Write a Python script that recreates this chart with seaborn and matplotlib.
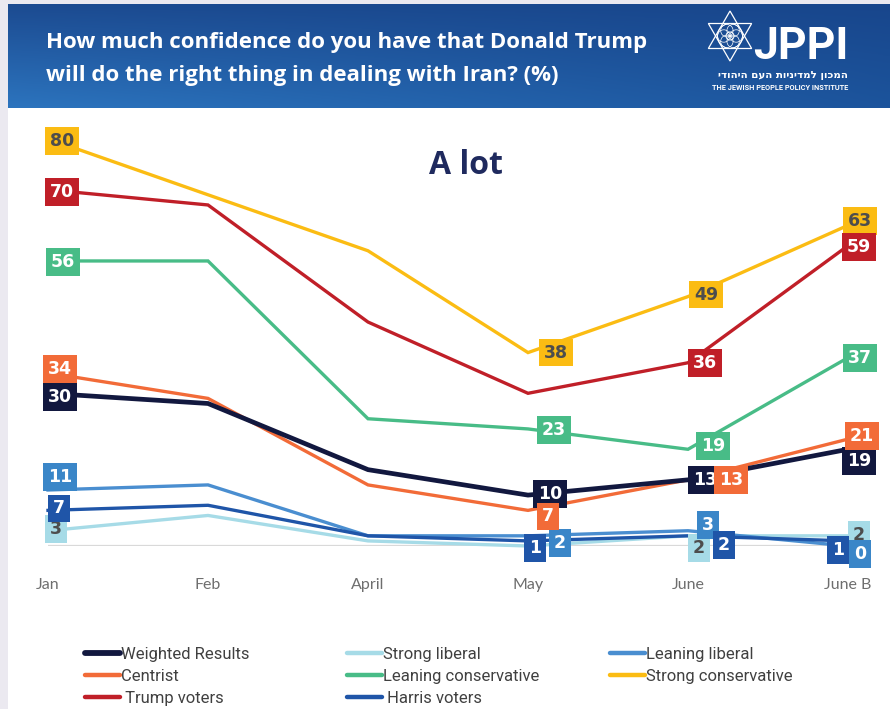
import numpy as np
import pandas as pd
import matplotlib
matplotlib.use("Agg")
import matplotlib.pyplot as plt
from matplotlib.lines import Line2D
from matplotlib.patches import Rectangle, Polygon, Circle
import seaborn as sns

# ---- survey data (percent answering "A lot") ----
periods = ["Jan", "Feb", "April", "May", "June", "June B"]
weighted_results = [30, 28, 15, 10, 13, 19]
strong_liberal = [3, 6, 1, 0, 2, 2]
leaning_liberal = [11, 12, 2, 2, 3, 0]
centrist = [34, 29, 12, 7, 13, 21]
leaning_conservative = [56, 56, 25, 23, 19, 37]
strong_conservative = [80, 69, 58, 38, 49, 63]
trump_voters = [70, 67, 44, 30, 36, 59]
harris_voters = [7, 8, 2, 1, 2, 1]

series_names = ["Weighted Results", "Strong liberal", "Leaning liberal",
                "Centrist", "Leaning conservative", "Strong conservative",
                "Trump voters", "Harris voters"]
series_values = [weighted_results, strong_liberal, leaning_liberal, centrist,
                 leaning_conservative, strong_conservative, trump_voters,
                 harris_voters]
colors = {
    "Weighted Results": "#12183F",
    "Strong liberal": "#A6DBE7",
    "Leaning liberal": "#4A8ED0",
    "Centrist": "#F26B38",
    "Leaning conservative": "#48BC87",
    "Strong conservative": "#FBBC13",
    "Trump voters": "#C01F28",
    "Harris voters": "#1F55A8",
}
label_colors = dict(colors, **{"Leaning liberal": "#3A86C8"})
dark_text = {"Strong conservative", "Strong liberal"}

# value-label placement: period index -> offset (pixels) from the point
label_offsets = {
    "Strong conservative": {0: (14, -2), 3: (28, 0), 4: (18, 2), 5: (12, 4)},
    "Trump voters": {0: (14, -2), 4: (17, 0), 5: (11, -1)},
    "Leaning conservative": {0: (15, -1), 3: (26, -1), 4: (25, 3), 5: (12, 0)},
    "Centrist": {0: (12, 4), 3: (20, -6), 4: (43, 0), 5: (14, 3)},
    "Weighted Results": {0: (12, -4), 3: (22, 1), 4: (17, 0), 5: (11, -12)},
    "Leaning liberal": {0: (12, 13), 3: (32, -7), 4: (20, 6), 5: (12, -8)},
    "Harris voters": {0: (11, 2), 3: (7, -7), 4: (36, -9), 5: (-10, -9)},
    "Strong liberal": {0: (8, 2), 4: (11, -12), 5: (11, 1)},
}

df = pd.DataFrame(
    [(name, i, v) for name, vals in zip(series_names, series_values)
     for i, v in enumerate(vals)],
    columns=["group", "pos", "value"],
)

W, H = 890, 709
fig = plt.figure(figsize=(W / 100, H / 100), dpi=100)
fig.patch.set_facecolor("white")

# ---- background layer in pixel coordinates ----
bg = fig.add_axes([0, 0, 1, 1], zorder=0)
bg.axis("off")
bg.add_patch(Rectangle((0, 0), 8, H, color="#EBE9F0", lw=0))
bg.add_patch(Rectangle((0, 0), W, 4, color="#EBE9F0", lw=0))

# header band with a soft blue gradient
tl, bl = np.array([28, 75, 145]), np.array([44, 116, 190])
tr, br = np.array([24, 70, 140]), np.array([28, 84, 156])
gx = np.linspace(0, 1, 200)[None, :, None]
gy = np.linspace(0, 1, 60)[:, None, None]
grad = ((1 - gx) * ((1 - gy) * tl + gy * bl) + gx * ((1 - gy) * tr + gy * br)) / 255
bg.imshow(grad, extent=(8, W, 108, 4), aspect="auto", zorder=1)
bg.set_xlim(0, W)
bg.set_ylim(H, 0)

fig.text(46 / W, 1 - 48 / H, "How much confidence do you have that Donald Trump",
         family="Open Sans", fontweight="bold", fontsize=16, color="white",
         va="baseline", ha="left")
fig.text(46 / W, 1 - 81 / H, "will do the right thing in dealing with Iran? (%)",
         family="Open Sans", fontweight="bold", fontsize=16, color="white",
         va="baseline", ha="left")

# JPPI emblem: star of David with interlaced circles
cx, cy, R = 730, 36, 25
up = [(cx + R * np.cos(a), cy - R * np.sin(a)) for a in np.deg2rad([90, 210, 330])]
dn = [(cx + R * np.cos(a), cy - R * np.sin(a)) for a in np.deg2rad([270, 30, 150])]
for tri in (up, dn):
    bg.add_patch(Polygon(tri, closed=True, fill=False, ec="white", lw=0.9, zorder=3))
bg.add_patch(Circle((cx, cy), 12.5, fill=False, ec="white", lw=0.7, zorder=3))
bg.add_patch(Circle((cx, cy), 4, fill=False, ec="white", lw=0.7, zorder=3))
for a in np.deg2rad(np.arange(0, 360, 60)):
    bg.add_patch(Circle((cx + 6.2 * np.cos(a), cy + 6.2 * np.sin(a)), 6.2,
                        fill=False, ec="white", lw=0.5, zorder=3))
fig.text(848 / W, 1 - 59 / H, "JPPI", family="Roboto",
         fontweight="bold", fontsize=32, color="white", va="baseline", ha="right")
hebrew = "המכון למדיניות העם היהודי"
fig.text(848 / W, 1 - 78 / H, hebrew[::-1], family="DejaVu Sans",
         fontweight="bold", fontsize=7.4, color="white", va="baseline", ha="right")
fig.text(848 / W, 1 - 90 / H, "THE JEWISH PEOPLE POLICY INSTITUTE",
         family="Roboto", fontweight="bold", fontsize=5.3,
         color="white", va="baseline", ha="right")

fig.text(466 / W, 1 - 166 / H, "A lot", family="Open Sans", fontweight="bold",
         fontsize=23, color="#1F2A5E", ha="center", va="center")

# ---- main line chart ----
x0, x1, y0 = 48, 848, 546
px_per_unit = 5.09
ymax = 85
ax = fig.add_axes([x0 / W, (H - y0) / H, (x1 - x0) / W, ymax * px_per_unit / H],
                  zorder=2)
ax.patch.set_alpha(0)

sns.lineplot(data=df, x="pos", y="value", hue="group", hue_order=series_names,
             palette=colors, linewidth=2.4, legend=False, sort=False,
             estimator=None, ax=ax)
for line in ax.lines:
    line.set_clip_on(False)
    line.set_solid_joinstyle("miter")
    if matplotlib.colors.to_hex(line.get_color()).upper() == colors["Weighted Results"].upper():
        line.set_linewidth(3.4)
        line.set_zorder(2.6)

ax.axhline(0, color="#D9D9D9", lw=1.6, zorder=1)
ax.set_xlim(0, len(periods) - 1)
ax.set_ylim(0, ymax)
ax.set_xticks(range(len(periods)))
ax.set_xticklabels(periods, family="Lato", fontsize=11.5, color="#6E6E6E")
ax.tick_params(axis="x", length=0, pad=23)
ax.set_yticks([])
ax.set_xlabel("")
ax.set_ylabel("")
for s in ax.spines.values():
    s.set_visible(False)

for name, vals in zip(series_names, series_values):
    for idx, (dx, dy) in label_offsets[name].items():
        ax.annotate(str(vals[idx]), xy=(idx, vals[idx]), xytext=(dx, dy),
                    textcoords="offset pixels", ha="center", va="center",
                    family="DejaVu Sans", fontweight="bold", fontsize=12.5,
                    color="#4D4D4D" if name in dark_text else "white",
                    bbox=dict(boxstyle="square,pad=0.28", fc=label_colors[name], ec="none"),
                    zorder=6, annotation_clip=False)

# ---- legend: three columns laid out row by row ----
columns = [
    (85, ["Weighted Results", "Centrist", "Trump voters"]),
    (347, ["Strong liberal", "Leaning conservative", "Harris voters"]),
    (610, ["Leaning liberal", "Strong conservative"]),
]
display_names = {"Trump voters": " Trump voters", "Harris voters": " Harris voters"}
for xcol, names in columns:
    handles = [Line2D([], [], color=colors[n],
                      lw=4.2 if n == "Weighted Results" else 3.2,
                      solid_capstyle="round") for n in names]
    fig.legend(handles, [display_names.get(n, n) for n in names],
               loc="upper left", bbox_to_anchor=(xcol / W, 1 - 647 / H),
               frameon=False, borderpad=0, borderaxespad=0, handlelength=2.1,
               handletextpad=0.05, labelspacing=0.42,
               prop={"family": "Roboto", "size": 12}, labelcolor="#404040")

fig.savefig("out.png", dpi=100, facecolor="white")
